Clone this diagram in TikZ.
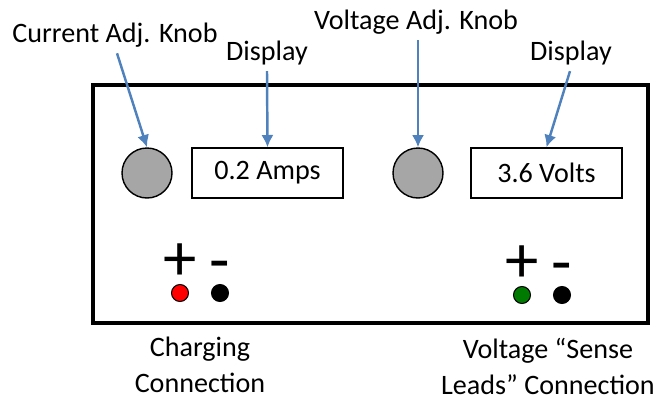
\documentclass[tikz,border=0pt]{standalone}
\usepackage{fontspec}
\setmainfont{Carlito}
\usepackage{xcolor}
\usetikzlibrary{calc, positioning, arrows.meta}

\definecolor{arrowblue}{HTML}{4F81BD}
\definecolor{knobgray}{HTML}{A6A6A6}
\definecolor{plusgreen}{HTML}{007A00}

\begin{document}
\begin{tikzpicture}[>=latex, x=0.02cm, y=-0.02cm,
    lbl/.style={font=\fontsize{16}{20.5}\selectfont, inner sep=1pt},
    knob/.style={circle, draw, fill=knobgray, line width=0.8pt, minimum size=1.0cm, inner sep=0pt},
    screen/.style={draw, line width=0.8pt, minimum width=3.02cm, minimum height=1.0cm,
                   font=\fontsize{16}{19}\selectfont},
    jack/.style={circle, draw, line width=0.6pt, minimum size=0.34cm, inner sep=0pt},
    sign/.style={font=\fontsize{38}{40}\selectfont, inner sep=0pt},
    pointer/.style={-{Latex[length=7pt, width=7pt]}, draw=arrowblue, fill=arrowblue, line width=1.4pt}]
    \useasboundingbox (0,0) rectangle (670,400);
    % Vỏ máy
    \draw[line width=2.8pt] (93,85) rectangle (648,323);
    % Núm chỉnh và màn hình
    \node[knob] (knobA) at (147,173) {};
    \node[screen] (dispA) at (267.5,173) {0.2 Amps};
    \node[knob] (knobV) at (418,173) {};
    \node[screen] (dispV) at (546.5,173) {3.6 Volts};
    % Nhãn phía trên
    \node[lbl] (knobAlbl) at (115,35) {Current Adj. Knob};
    \node[lbl] (dispAlbl) at (267,53) {Display};
    \node[lbl] (knobVlbl) at (416,22) {Voltage Adj. Knob};
    \node[lbl] (dispVlbl) at (571,53) {Display};
    % Mũi tên chỉ dẫn
    \draw[pointer] ($(knobAlbl.south)+(2,4)$) -- (knobA.north);
    \draw[pointer] ($(dispAlbl.south)+(0,4)$) -- (dispA.north);
    \draw[pointer] ($(knobVlbl.south)+(2,4)$) -- (knobV.north);
    \draw[pointer] ($(dispVlbl.south)+(-1,4)$) -- (dispV.north);
    % Cực nối
    \node[jack, fill=red] (chgP) at (180,293) {};
    \node[jack, fill=black] (chgN) at (220,293) {};
    \node[jack, fill=plusgreen] (senP) at (522,295) {};
    \node[jack, fill=black] (senN) at (562,295) {};
    \node[sign] (chgPs) at (180,262) {+};
    \node[sign] (chgNs) at (220,272) {-};
    \node[sign] (senPs) at (522,264) {+};
    \node[sign] (senNs) at (562,274) {-};
    % Nhãn phía dưới
    \node[lbl, align=center] (chglbl) at (200,365) {Charging\\Connection};
    \node[lbl, align=center] (senlbl) at (548,366) {Voltage “Sense\\Leads” Connection};
\end{tikzpicture}
\end{document}
